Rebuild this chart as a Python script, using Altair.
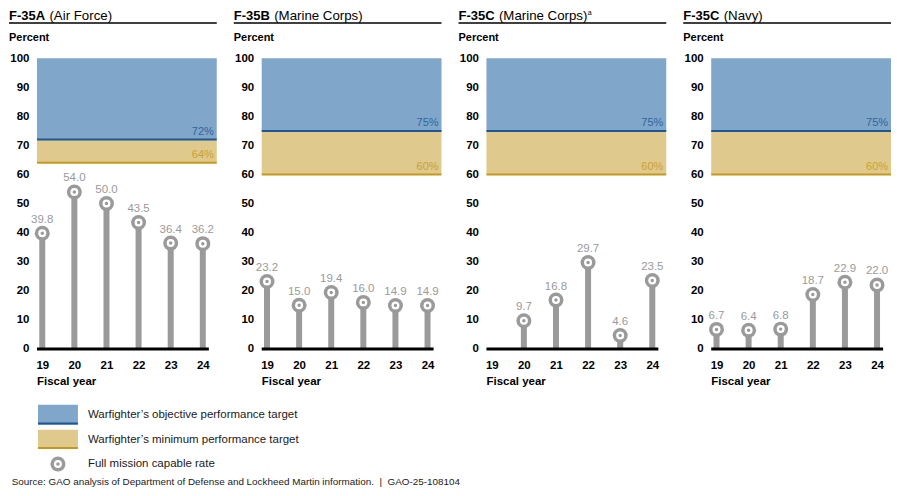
import altair as alt
import pandas as pd

# ---------------- data ----------------
years = [19, 20, 21, 22, 23, 24]
panel_codes = ["F-35A", "F-35B", "F-35C", "F-35C"]
panel_services = ["(Air Force)", "(Marine Corps)", "(Marine Corps)", "(Navy)"]
panel_notes = ["", "", "a", ""]
objective_targets = [72, 75, 75, 75]
minimum_targets = [64, 60, 60, 60]
fmc_f35a_af = [39.8, 54.0, 50.0, 43.5, 36.4, 36.2]
fmc_f35b_mc = [23.2, 15.0, 19.4, 16.0, 14.9, 14.9]
fmc_f35c_mc = [None, 9.7, 16.8, 29.7, 4.6, 23.5]
fmc_f35c_navy = [6.7, 6.4, 6.8, 18.7, 22.9, 22.0]
fmc_rates = [fmc_f35a_af, fmc_f35b_mc, fmc_f35c_mc, fmc_f35c_navy]
y_ticks = list(range(0, 101, 10))
legend_labels = [
    "Warfighter\u2019s objective performance target",
    "Warfighter\u2019s minimum performance target",
    "Full mission capable rate",
]
source_text = ("Source: GAO analysis of Department of Defense and Lockheed Martin "
               "information.\u00a0\u00a0|\u00a0\u00a0GAO-25-108104")

# ---------------- style ----------------
W, H = 180, 291
FONT = "Liberation Sans"
BLUE_FILL = "#80a7c9"
BLUE_LINE = "#1d5796"
BLUE_TEXT = "#2e64a2"
TAN_FILL = "#dfc98c"
GOLD_LINE = "#c49a1c"
GOLD_TEXT = "#c9a232"
GRAY = "#9a9a9a"
INK = "#1a1a1a"

xscale = alt.Scale(domain=[18.835, 24.435], nice=False, zero=False)
yscale = alt.Scale(domain=[0, 100], nice=False)
xax = alt.Axis(values=years, title=None, domain=False, ticks=False, tickSize=0,
               grid=False, labelPadding=11, labelFontWeight="bold",
               labelFontSize=11.5, labelColor="black", labelFont=FONT)
yax = alt.Axis(values=y_ticks, title=None, domain=False, ticks=False, tickSize=0,
               grid=False, labelPadding=8, labelFontWeight="bold",
               labelFontSize=11.5, labelColor="black", labelFont=FONT)


def txt(data, text, x, y, size, weight="normal", color=INK, align="left"):
    return alt.Chart(data).mark_text(
        text=text, font=FONT, fontSize=size, fontWeight=weight, color=color,
        align=align, baseline="alphabetic"
    ).encode(x=alt.value(x), y=alt.value(y))


def panel(i):
    vals = pd.DataFrame({"year": years, "rate": fmc_rates[i]}).dropna()
    vals["label"] = vals["rate"].map(lambda v: f"{v:.1f}")
    tg = pd.DataFrame({"obj": [objective_targets[i]],
                       "min": [minimum_targets[i]],
                       "top": [100]})
    tg["obj_label"] = tg["obj"].map(lambda v: f"{v}%")
    tg["min_label"] = tg["min"].map(lambda v: f"{v}%")

    T = alt.Chart(tg)
    blue = T.mark_rect(color=BLUE_FILL).encode(
        x=alt.value(0), x2=alt.value(W),
        y=alt.Y("obj:Q", scale=yscale, axis=yax), y2=alt.Y2("top:Q"))
    tan = T.mark_rect(color=TAN_FILL).encode(
        x=alt.value(0), x2=alt.value(W),
        y=alt.Y("min:Q", scale=yscale, axis=yax), y2=alt.Y2("obj:Q"))
    bline = T.mark_rule(color=BLUE_LINE, strokeWidth=2).encode(
        x=alt.value(0), x2=alt.value(W), y=alt.Y("obj:Q", scale=yscale, axis=yax))
    gline = T.mark_rule(color=GOLD_LINE, strokeWidth=2).encode(
        x=alt.value(0), x2=alt.value(W), y=alt.Y("min:Q", scale=yscale, axis=yax))
    blab = T.mark_text(font=FONT, fontSize=11, color=BLUE_TEXT, align="right",
                       baseline="alphabetic", dy=-4.5).encode(
        x=alt.value(W - 3), y=alt.Y("obj:Q", scale=yscale, axis=yax),
        text="obj_label:N")
    glab = T.mark_text(font=FONT, fontSize=11, color=GOLD_TEXT, align="right",
                       baseline="alphabetic", dy=-4.5).encode(
        x=alt.value(W - 3), y=alt.Y("min:Q", scale=yscale, axis=yax),
        text="min_label:N")

    V = alt.Chart(vals).encode(
        x=alt.X("year:Q", scale=xscale, axis=xax),
        y=alt.Y("rate:Q", scale=yscale, axis=yax))
    stems = V.mark_rule(color=GRAY, strokeWidth=6, strokeCap="butt").encode(
        y2=alt.datum(0))
    c1 = V.mark_circle(size=225, color=GRAY, opacity=1)
    c2 = V.mark_circle(size=64, color="white", opacity=1)
    c3 = V.mark_circle(size=12, color=GRAY, opacity=1)
    vlab = V.mark_text(font=FONT, fontSize=11.5, color=GRAY, baseline="alphabetic",
                       dy=-10.5).encode(text="label:N")

    base = T.mark_rule(color="black", strokeWidth=3).encode(
        x=alt.value(0), x2=alt.value(W * 174 / 182), y=alt.value(H))

    layers = [blue, tan, bline, gline, blab, glab, stems, base, c1, c2, c3, vlab]

    # titles
    layers.append(txt(tg, panel_codes[i], -28, -38.7, 13, "bold", "black"))
    layers.append(txt(tg, panel_services[i], 12.5, -38.7, 13.3, "normal", "black"))
    if panel_notes[i]:
        layers.append(txt(tg, panel_notes[i], 101.5, -43, 7, "normal", "black"))
    layers.append(T.mark_rule(color="black", strokeWidth=1.5).encode(
        x=alt.value(-28), x2=alt.value(W), y=alt.value(-35.3)))
    layers.append(txt(tg, "Percent", -28, -17, 11, "bold", "black"))
    layers.append(txt(tg, "Fiscal year", 0, H + 36, 11.5, "bold", "black"))

    if i == 0:
        layers += [
            T.mark_rect(color=BLUE_FILL).encode(
                x=alt.value(1), x2=alt.value(41), y=alt.value(H + 56), y2=alt.value(H + 76)),
            T.mark_rule(color=BLUE_LINE, strokeWidth=2).encode(
                x=alt.value(1), x2=alt.value(41), y=alt.value(H + 74.8)),
            T.mark_rect(color=TAN_FILL).encode(
                x=alt.value(1), x2=alt.value(41), y=alt.value(H + 81), y2=alt.value(H + 100.3)),
            T.mark_rule(color=GOLD_LINE, strokeWidth=2).encode(
                x=alt.value(1), x2=alt.value(41), y=alt.value(H + 99.2)),
            T.mark_circle(size=225, color=GRAY, opacity=1).encode(
                x=alt.value(21), y=alt.value(H + 115.2)),
            T.mark_circle(size=64, color="white", opacity=1).encode(
                x=alt.value(21), y=alt.value(H + 115.2)),
            T.mark_circle(size=12, color=GRAY, opacity=1).encode(
                x=alt.value(21), y=alt.value(H + 115.2)),
            txt(tg, legend_labels[0], 51, H + 69.3, 11.5),
            txt(tg, legend_labels[1], 51, H + 94.3, 11.5),
            txt(tg, legend_labels[2], 51, H + 118.3, 11.5),
            txt(tg, source_text, -25.3, H + 136, 9.9),
        ]

    return alt.layer(*layers).properties(width=W, height=H)


chart = alt.hconcat(*[panel(i) for i in range(4)], spacing=45, bounds="flush") \
    .properties(padding=0) \
    .configure_view(stroke=None)

chart.save("out.html", embed_options={"renderer": "svg", "actions": False})
